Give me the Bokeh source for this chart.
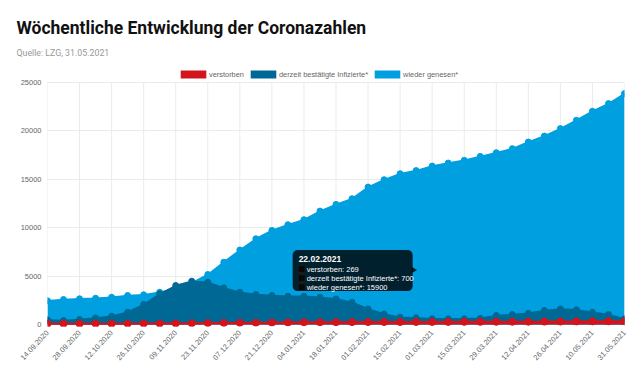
import math
from bokeh.plotting import figure
from bokeh.models import Label, Legend, LegendItem, BoxAnnotation, FixedTicker, Title
from bokeh.embed import file_html
from bokeh.resources import INLINE

dates = ["14.09.2020", "21.09.2020", "28.09.2020", "05.10.2020", "12.10.2020", "19.10.2020",
         "26.10.2020", "02.11.2020", "09.11.2020", "16.11.2020", "23.11.2020", "30.11.2020",
         "07.12.2020", "14.12.2020", "21.12.2020", "28.12.2020", "04.01.2021", "11.01.2021",
         "18.01.2021", "25.01.2021", "01.02.2021", "08.02.2021", "15.02.2021", "22.02.2021",
         "01.03.2021", "08.03.2021", "15.03.2021", "22.03.2021", "29.03.2021", "05.04.2021",
         "12.04.2021", "19.04.2021", "26.04.2021", "03.05.2021", "10.05.2021", "17.05.2021",
         "31.05.2021"]

verstorben = [88, 89, 90, 91, 92, 94, 99, 108, 120, 135, 150, 165, 178, 190, 205, 218, 230, 240,
              248, 255, 260, 264, 267, 269, 272, 275, 278, 282, 287, 292, 298, 305, 315, 325,
              335, 342, 350]
infizierte = [480, 410, 520, 690, 860, 1270, 2070, 3170, 4030, 4480, 4370, 3790, 3340, 3100,
              3000, 2930, 2930, 2820, 2650, 2310, 1620, 1100, 760, 700, 590, 590, 590, 650,
              930, 1030, 1170, 1450, 1620, 1520, 1270, 1030, 590]
genesen = [2450, 2590, 2660, 2720, 2820, 3000, 3070, 3340, 3700, 4300, 5170, 6440, 7700, 8860,
           9720, 10310, 10830, 11720, 12410, 13000, 14200, 14960, 15580, 15900, 16370, 16680,
           16960, 17370, 17750, 18170, 18850, 19470, 20240, 21100, 22030, 22820, 23860]

series_names = ["verstorben", "derzeit bestätigte Infizierte*", "wieder genesen*"]
y_ticks = [0, 5000, 10000, 15000, 20000, 25000]
tooltip_index = 23

C_RED = "#d3141c"
C_DARK = "#006894"
C_LIGHT = "#009fe0"

W, H = 636, 366
L, R, T, B = 47, 12, 62, 40
frame_w = W - L - R
frame_h = H - T - B
Y0 = -200
Y_MAX = y_ticks[-1]
TOP_GAP = 20  # px between top of frame and the highest gridline (room for legend)
Y1 = (Y_MAX + TOP_GAP / frame_h * (-Y0)) / (1 - TOP_GAP / frame_h)
x = list(range(len(dates)))

p = figure(width=W, height=H, output_backend="svg", toolbar_location=None,
           x_range=(0, len(dates) - 1), y_range=(Y0, Y1),
           min_border_left=L, min_border_right=R, min_border_top=T, min_border_bottom=B)
p.outline_line_alpha = 0
p.background_fill_color = "white"

even = [i for i in x if i % 2 == 0]
p.xaxis.ticker = FixedTicker(ticks=even)
p.xaxis.major_label_overrides = {i: dates[i] for i in even}
p.xaxis.major_label_orientation = 0.82
p.yaxis.ticker = FixedTicker(ticks=y_ticks)
for ax in (p.xaxis[0], p.yaxis[0]):
    ax.axis_line_alpha = 0
    ax.major_tick_line_alpha = 0
    ax.minor_tick_line_alpha = 0
    ax.major_tick_out = 0
    ax.major_label_text_font = "Liberation Sans"
    ax.major_label_text_font_size = "7.5px"
    ax.major_label_text_color = "#666666"
p.yaxis.major_label_standoff = 6
p.xaxis.major_label_standoff = 5
p.xgrid.grid_line_alpha = 0
p.ygrid.ticker = FixedTicker(ticks=y_ticks)
p.ygrid.grid_line_color = "#ebebeb"
# vertical grid lines only up to the top tick
p.segment(x0=even, y0=[Y0] * len(even), x1=even, y1=[Y_MAX] * len(even),
          line_color="#ebebeb", line_width=1)

# draw order: recovered at the back, deaths on top
a3 = p.varea(x=x, y1=0, y2=genesen, fill_color=C_LIGHT)
p.line(x, genesen, line_color=C_LIGHT, line_width=1.5)
p.scatter(x, genesen, size=6, fill_color=C_LIGHT, line_color=C_LIGHT)

a2 = p.varea(x=x, y1=0, y2=infizierte, fill_color=C_DARK)
p.line(x, infizierte, line_color=C_DARK, line_width=1.5)
p.scatter(x, infizierte, size=6, fill_color=C_DARK, line_color=C_DARK)

a1 = p.varea(x=x, y1=0, y2=verstorben, fill_color=C_RED)
p.line(x, verstorben, line_color=C_RED, line_width=2)
p.scatter(x, verstorben, size=7, fill_color=C_RED, line_color=C_RED)

legend = Legend(items=[LegendItem(label=series_names[0], renderers=[a1]),
                       LegendItem(label=series_names[1], renderers=[a2]),
                       LegendItem(label=series_names[2], renderers=[a3])],
                orientation="horizontal", location=(130, frame_h + T - 79),
                glyph_width=32, glyph_height=10, label_height=10,
                label_text_font="Liberation Sans", label_text_font_size="7.4px",
                label_text_color="#666666", label_standoff=0, spacing=3,
                padding=0, margin=0, border_line_alpha=0, background_fill_alpha=0)
p.add_layout(legend, "center")

p.add_layout(Title(text="Quelle: LZG, 31.05.2021", align="left", offset=-31,
                   text_font="Roboto", text_font_size="8.8px", text_font_style="normal",
                   text_color="#999999", standoff=10), "above")
p.add_layout(Title(text="Wöchentliche Entwicklung der Coronazahlen", align="left", offset=-31,
                   text_font="Roboto", text_font_style="bold", text_font_size="17.5px",
                   text_color="#111111", standoff=6), "above")

px_x = frame_w / (len(dates) - 1)
px_y = frame_h / (Y1 - Y0)

# static tooltip for 22.02.2021
ti = tooltip_index
vals = [verstorben[ti], infizierte[ti], genesen[ti]]
ax_ = ti
ay_ = sum(vals) / 3.0
p.add_layout(BoxAnnotation(left=ax_ - 123.5 / px_x, right=ax_ - 3.5 / px_x,
                           top=ay_ + 20 / px_y, bottom=ay_ - 21 / px_y,
                           fill_color="black", fill_alpha=0.8, line_alpha=0,
                           border_radius=5))
p.scatter([ax_ - 2.5 / px_x], [ay_], marker="triangle", angle=-math.pi / 2, size=6,
          fill_color="black", fill_alpha=0.8, line_alpha=0)
p.add_layout(Label(x=ax_, y=ay_, x_offset=-117.5, y_offset=11, text=dates[ti],
                   text_font="Liberation Sans", text_font_style="bold",
                   text_font_size="8.5px", text_color="white", text_baseline="middle"))
for k, (nm, v) in enumerate(zip(series_names, vals)):
    oy = 1 - 9 * k
    p.scatter([ax_ - 114.5 / px_x], [ay_ + oy / px_y], marker="square", size=7,
              fill_color="#2a2a2a", line_color="#9a9a9a", line_width=0.8)
    p.add_layout(Label(x=ax_, y=ay_, x_offset=-109.5, y_offset=oy, text=f"{nm}: {v}",
                       text_font="Liberation Sans", text_font_size="7.5px",
                       text_color="white", text_baseline="middle"))

open("out.html", "w").write(file_html(p, INLINE))
